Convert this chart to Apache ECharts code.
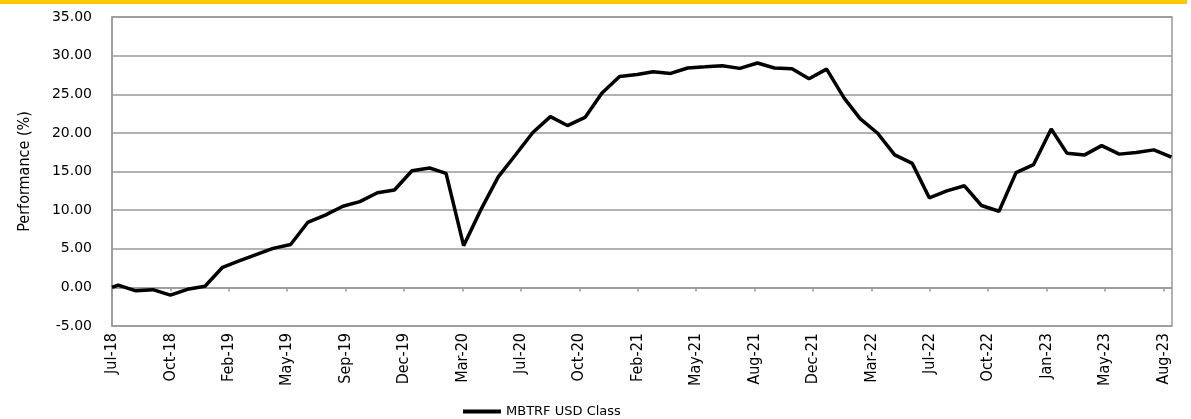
<!DOCTYPE html>
<html>
<head>
<meta charset="utf-8">
<script src="https://cdn.jsdelivr.net/npm/echarts@6/dist/echarts.min.js"></script>
<style>
  html, body { margin: 0; padding: 0; background: #fff; }
  #main { width: 1191px; height: 419px; }
</style>
</head>
<body>
<div id="main"></div>
<script>
// inception date, then month ends Jul-18 .. Aug-23
var dates = [
  '2018-07-20',
  '2018-07-31','2018-08-31','2018-09-30','2018-10-31','2018-11-30','2018-12-31',
  '2019-01-31','2019-02-28','2019-03-31','2019-04-30','2019-05-31','2019-06-30',
  '2019-07-31','2019-08-31','2019-09-30','2019-10-31','2019-11-30','2019-12-31',
  '2020-01-31','2020-02-29','2020-03-31','2020-04-30','2020-05-31','2020-06-30',
  '2020-07-31','2020-08-31','2020-09-30','2020-10-31','2020-11-30','2020-12-31',
  '2021-01-31','2021-02-28','2021-03-31','2021-04-30','2021-05-31','2021-06-30',
  '2021-07-31','2021-08-31','2021-09-30','2021-10-31','2021-11-30','2021-12-31',
  '2022-01-31','2022-02-28','2022-03-31','2022-04-30','2022-05-31','2022-06-30',
  '2022-07-31','2022-08-31','2022-09-30','2022-10-31','2022-11-30','2022-12-31',
  '2023-01-31','2023-02-28','2023-03-31','2023-04-30','2023-05-31','2023-06-30',
  '2023-07-31','2023-08-31'
];
var performance = [
  0,
  0.3, -0.45, -0.3, -1.0, -0.25, 0.15,
  2.6, 3.4, 4.25, 5.05, 5.55, 8.4,
  9.35, 10.5, 11.1, 12.25, 12.6, 15.1,
  15.45, 14.75, 5.4, 10.0, 14.3, 17.1,
  20.05, 22.1, 20.95, 22.0, 25.15, 27.3,
  27.55, 27.9, 27.7, 28.4, 28.55, 28.7,
  28.35, 29.05, 28.4, 28.3, 27.0, 28.25,
  24.5, 21.85, 19.95, 17.15, 16.05, 11.6,
  12.5, 13.15, 10.6, 9.85, 14.85, 15.9,
  20.5, 17.35, 17.15, 18.35, 17.25, 17.45,
  17.8, 16.85
];
var tickLabels = ['Jul-18','Oct-18','Feb-19','May-19','Sep-19','Dec-19','Mar-20','Jul-20','Oct-20',
  'Feb-21','May-21','Aug-21','Dec-21','Mar-22','Jul-22','Oct-22','Jan-23','May-23','Aug-23'];
var seriesName = 'MBTRF USD Class';

var axisStart = '2018-07-20';
var axisEnd = '2023-09-01';
var tickStepDays = 103;

var DAY = 24 * 3600 * 1000;
function toTime(s) { return +echarts.time.parse(s); }
var startTime = toTime(axisStart);
var tickValues = tickLabels.map(function (l, k) { return startTime + k * tickStepDays * DAY; });

// narrow text like the excel export; 'condensed' goes into the canvas font string
var narrowFont = { fontFamily: 'DejaVu Sans', fontWeight: 'condensed' };

var chart = echarts.init(document.getElementById('main'));
var option = {
    animation: false,
    grid: {
        left: 112, right: 19, top: 17, bottom: 93,
        outerBoundsMode: 'none',
        containLabel: false,
        show: true,
        borderColor: '#999',
        borderWidth: 1.5
    },
    graphic: [{
        type: 'rect',
        shape: { x: 0, y: 0, width: 1187, height: 4 },
        style: { fill: '#FFC800' }
    }],
    legend: {
        left: 458,
        top: 400,
        icon: 'rect',
        itemWidth: 38,
        itemHeight: 4,
        itemGap: 4,
        textStyle: { fontFamily: 'DejaVu Sans', fontSize: 13, color: '#000' },
        data: [seriesName]
    },
    xAxis: {
        type: 'value',
        min: startTime,
        max: toTime(axisEnd),
        axisLine: { onZero: true, lineStyle: { color: '#999', width: 1.5 } },
        axisTick: {
            show: true,
            inside: false,
            length: 4,
            customValues: tickValues,
            lineStyle: { color: '#999', width: 1.5 }
        },
        axisLabel: {
            customValues: tickValues,
            rotate: 90,
            margin: 7,
            fontFamily: narrowFont.fontFamily,
            fontWeight: narrowFont.fontWeight,
            fontSize: 16,
            color: '#000',
            formatter: function (v) {
                var k = Math.round((v - startTime) / (tickStepDays * DAY));
                return tickLabels[k] || '';
            }
        },
        splitLine: { show: false }
    },
    yAxis: {
        type: 'value',
        min: -5,
        max: 35,
        interval: 5,
        name: 'Performance (%)',
        nameLocation: 'middle',
        nameGap: 79,
        nameTextStyle: {
            fontFamily: narrowFont.fontFamily,
            fontWeight: narrowFont.fontWeight,
            fontSize: 16,
            color: '#000'
        },
        axisLine: { show: true, lineStyle: { color: '#999', width: 1.5 } },
        axisTick: { show: false },
        axisLabel: {
            margin: 20,
            fontFamily: 'DejaVu Sans',
            fontSize: 14,
            color: '#000',
            formatter: function (v) { return v.toFixed(2); }
        },
        splitLine: { lineStyle: { color: '#999', width: 1.5 } }
    },
    series: [{
        name: seriesName,
        type: 'line',
        data: dates.map(function (d, i) { return [toTime(d), performance[i]]; }),
        symbol: 'none',
        color: '#000',
        lineStyle: { color: '#000', width: 3.5 }
    }]
};
chart.setOption(option);
</script>
</body>
</html>
